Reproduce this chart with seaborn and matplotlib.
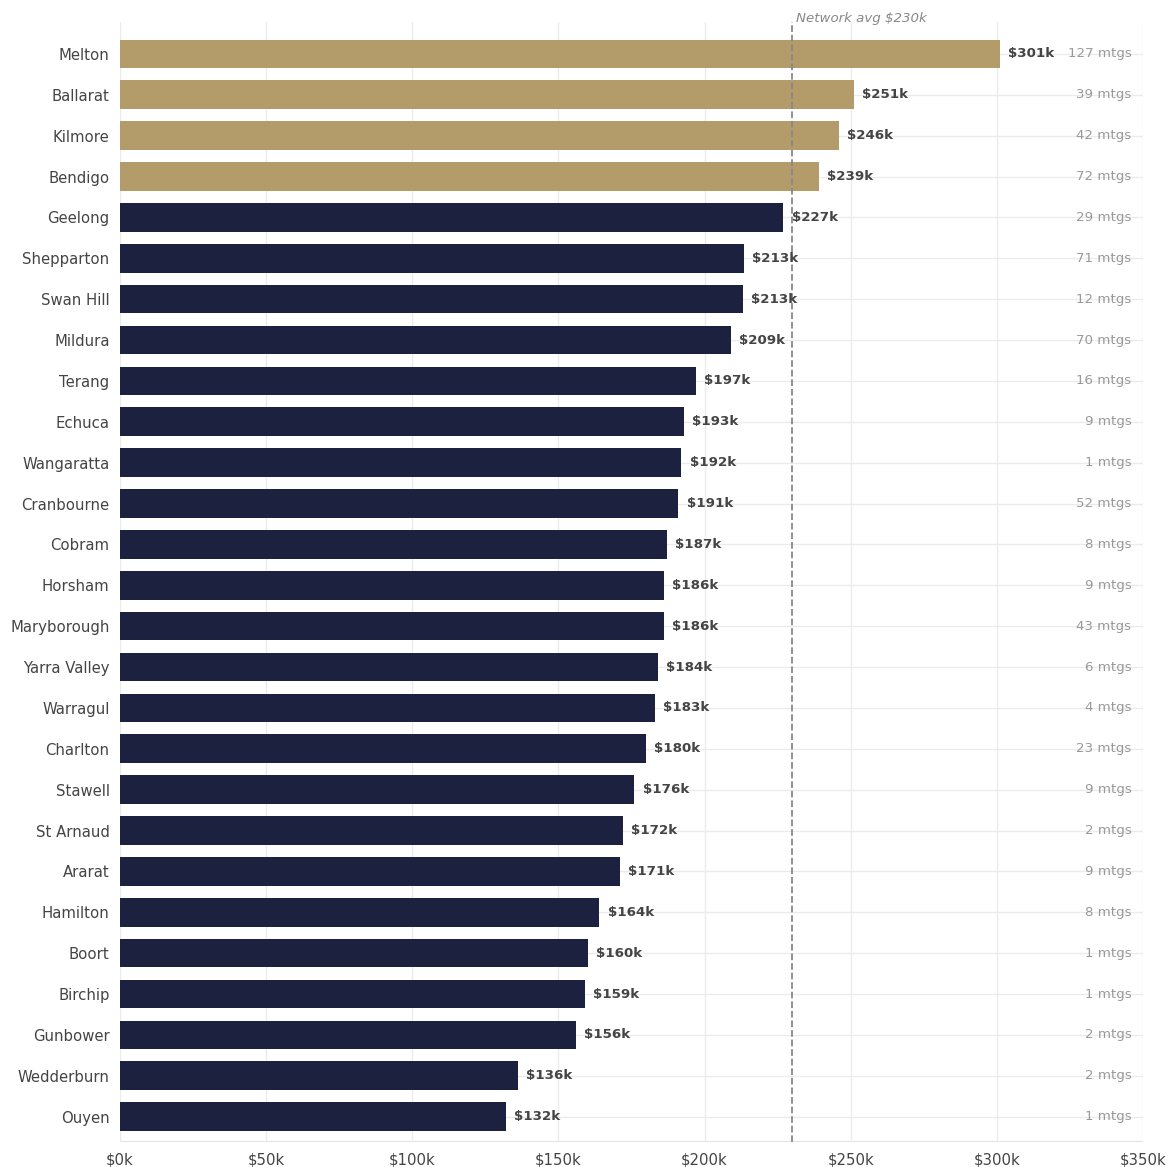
import numpy as np
import pandas as pd
import matplotlib
matplotlib.use("Agg")
import matplotlib.pyplot as plt
import seaborn as sns

sns.set_style("whitegrid")
plt.rcParams["font.family"] = ["DejaVu Sans"]

venues = ["Melton", "Ballarat", "Kilmore", "Bendigo", "Geelong", "Shepparton", "Swan Hill",
          "Mildura", "Terang", "Echuca", "Wangaratta", "Cranbourne", "Cobram", "Horsham",
          "Maryborough", "Yarra Valley", "Warragul", "Charlton", "Stawell", "St Arnaud",
          "Ararat", "Hamilton", "Boort", "Birchip", "Gunbower", "Wedderburn", "Ouyen"]
avg_k = [301, 251, 246, 239, 227, 213.4, 213, 209, 197, 193, 192, 191, 187, 186,
         186, 184, 183, 180, 176, 172, 171, 164, 160, 159, 156, 136, 132]
meetings = [127, 39, 42, 72, 29, 71, 12, 70, 16, 9, 1, 52, 8, 9,
            43, 6, 4, 23, 9, 2, 9, 8, 1, 1, 2, 2, 1]
network_avg = 230

df = pd.DataFrame({"venue": venues, "avg": avg_k, "mtgs": meetings})
df["grp"] = np.where(df["avg"] > network_avg, "above", "below")

gold = "#b39c6a"
navy = "#1b213e"

fig, ax = plt.subplots(figsize=(11.75, 11.67), dpi=100)
fig.subplots_adjust(left=120/1175, right=1143/1175, top=1-22/1167, bottom=1-1142/1167)

sns.barplot(data=df, x="avg", y="venue", hue="grp", palette={"above": gold, "below": navy},
            dodge=False, legend=False, width=0.7, orient="h", ax=ax, saturation=1,
            linewidth=0)

ax.set_xlim(0, 350)
ax.set_ylim(len(venues) - 1 + 0.62, -0.78)
ax.set_xticks(np.arange(0, 351, 50))
ax.set_xticklabels([f"${v}k" for v in range(0, 351, 50)])
ax.set_xlabel("")
ax.set_ylabel("")
for s in ax.spines.values():
    s.set_visible(False)
ax.grid(True, color="#ebebeb", lw=1)
ax.set_axisbelow(True)
ax.tick_params(axis="both", length=4, color="#555555", labelcolor="#444444", labelsize=10.7)
ax.axhline(len(venues) - 1 + 0.62, color="#e3e3e3", lw=1.5, zorder=0)

ax.axvline(network_avg, color="#888888", ls="--", lw=1.3, zorder=3)
ax.annotate(f"Network avg ${network_avg}k", xy=(network_avg, 1), xycoords=("data", "axes fraction"),
            xytext=(3, -2), textcoords="offset points", ha="left", va="bottom",
            fontsize=9.6, style="italic", color="#888888")

for i, row in df.iterrows():
    ax.annotate(f"${row['avg']:.0f}k", xy=(row["avg"], i), xytext=(6, 0),
                textcoords="offset points", ha="left", va="center",
                fontsize=9.6, fontweight="bold", color="#444444")
    ax.text(346, i, f"{row['mtgs']} mtgs", ha="right", va="center",
            fontsize=9.6, color="#999999")

plt.savefig("out.png", dpi=100)
plt.close()
